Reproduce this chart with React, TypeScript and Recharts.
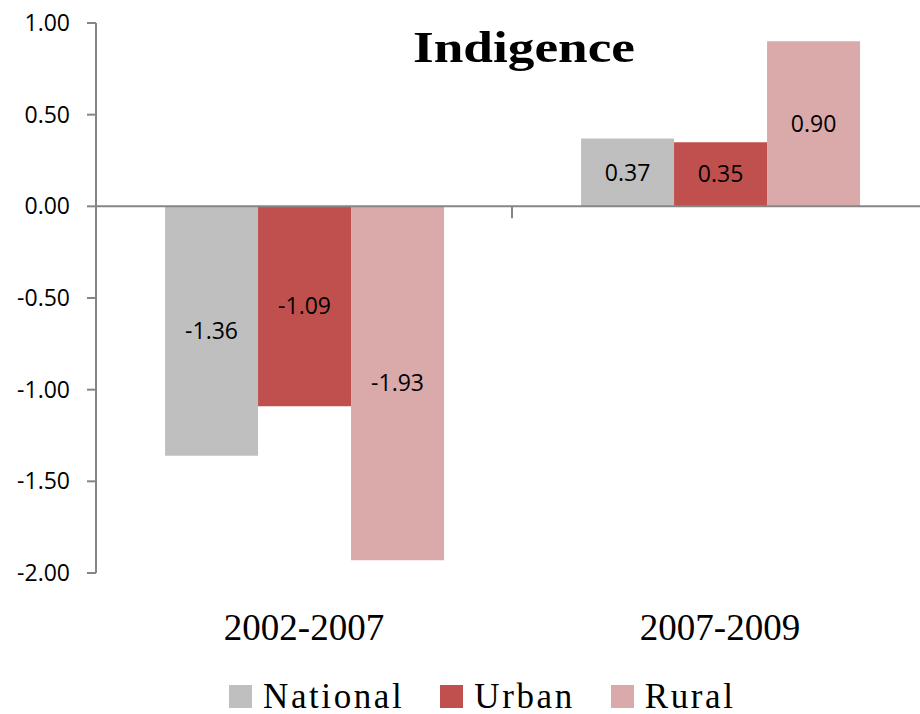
import { BarChart, Bar, XAxis, YAxis, ReferenceLine, Legend, LabelList } from 'recharts';

const periods = ['2002-2007', '2007-2009'];
const national = [-1.36, 0.37];
const urban = [-1.09, 0.35];
const rural = [-1.93, 0.90];
const yTicks = [-2, -1.5, -1, -0.5, 0, 0.5, 1];

const series = [
  { key: 'National', values: national, color: '#BFBFBF' },
  { key: 'Urban', values: urban, color: '#C0504D' },
  { key: 'Rural', values: rural, color: '#DAA9AA' },
];

const data = periods.map((p, i) => ({
  period: p,
  National: national[i],
  Urban: urban[i],
  Rural: rural[i],
}));

const AXIS = '#868686';
const SANS = '"Open Sans", sans-serif';
const SERIF = '"Liberation Serif", serif';

function PeriodTick({ x, y, payload }: any) {
  return (
    <text x={x} y={y} dy={65} textAnchor="middle" fontFamily={SERIF} fontSize={37} fill="#000">
      {payload.value}
    </text>
  );
}

// zero line, plus the small tick between the two categories
function ZeroLine(props: any) {
  const { x1, y1, x2, y2 } = props;
  const mid = (x1 + x2) / 2;
  return (
    <g>
      <line x1={x1} y1={y1} x2={x2} y2={y2} stroke={AXIS} strokeWidth={2} />
      <line x1={mid} y1={y1} x2={mid} y2={y1 + 12} stroke={AXIS} strokeWidth={2} />
    </g>
  );
}

function LegendRow() {
  return (
    <div style={{ display: 'flex', alignItems: 'center', paddingLeft: 229, height: 40, paddingTop: 5, boxSizing: 'border-box' }}>
      {series.map((s) => (
        <div key={s.key} style={{ display: 'flex', alignItems: 'center', marginRight: 36 }}>
          <span style={{ width: 23, height: 23, background: s.color, display: 'inline-block', marginRight: 11 }} />
          <span style={{ fontFamily: SERIF, fontSize: 35, letterSpacing: 2.6, lineHeight: 1, color: '#000' }}>{s.key}</span>
        </div>
      ))}
    </div>
  );
}

export default function App() {
  return (
    <div style={{ position: 'absolute', left: 0, top: 0, width: 920, height: 714, overflow: 'hidden', background: '#fff' }}>
      <BarChart
        width={928}
        height={714}
        data={data}
        margin={{ top: 23, right: 0, left: 0, bottom: 0 }}
        barCategoryGap="16.6%"
        barGap={0}
      >
        <XAxis dataKey="period" height={101} axisLine={false} tickLine={false} tickSize={0} tick={<PeriodTick />} interval={0} />
        <YAxis
          width={96}
          domain={[-2, 1]}
          ticks={yTicks}
          tickFormatter={(v: number) => v.toFixed(2)}
          tickSize={9}
          tickMargin={17}
          axisLine={{ stroke: AXIS, strokeWidth: 2 }}
          tickLine={{ stroke: AXIS, strokeWidth: 2 }}
          tick={{ fontFamily: SANS, fontSize: 23, fill: '#000' }}
          interval={0}
        />
        {series.map((s) => (
          <Bar key={s.key} dataKey={s.key} fill={s.color} isAnimationActive={false}>
            <LabelList
              dataKey={s.key}
              position="center"
              formatter={(v: any) => Number(v).toFixed(2)}
              style={{ fontFamily: SANS, fontSize: 23, fill: '#000' }}
            />
          </Bar>
        ))}
        <ReferenceLine y={0} shape={<ZeroLine />} />
        <Legend verticalAlign="bottom" height={40} content={() => <LegendRow />} />
      </BarChart>
      <svg width={920} height={90} style={{ position: 'absolute', left: 0, top: 0, pointerEvents: 'none' }}>
        <text x={413} y={62} fontFamily={SERIF} fontWeight="bold" fontSize={44} textLength={222} lengthAdjust="spacingAndGlyphs" fill="#000">
          Indigence
        </text>
      </svg>
    </div>
  );
}
